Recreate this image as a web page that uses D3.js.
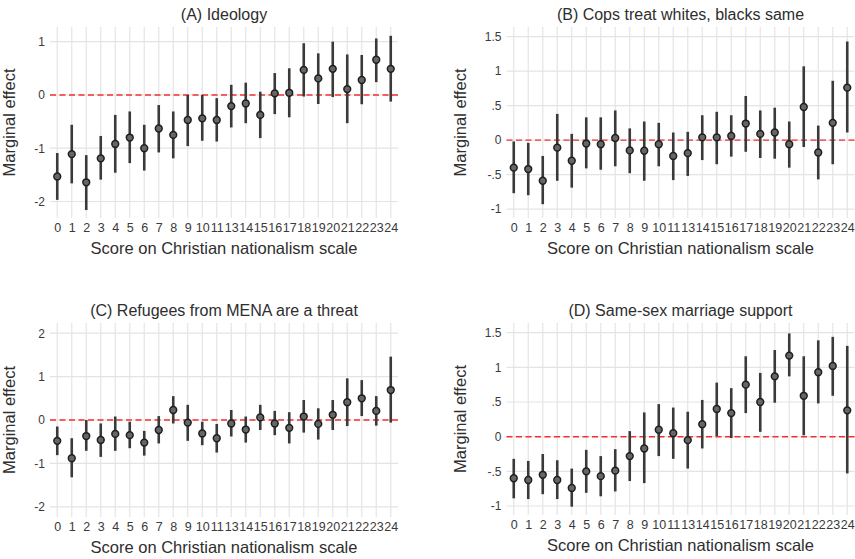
<!DOCTYPE html>
<html>
<head>
<meta charset="utf-8">
<script src="https://cdn.jsdelivr.net/npm/d3@7"></script>
<style>
  body { margin: 0; background: #fff; }
  text { font-family: "Liberation Sans", Arial, sans-serif; }
</style>
</head>
<body>
<div class="chart"></div>
<script>
// Marginal effects by Christian nationalism score, four panels

var scores = [0,1,2,3,4,5,6,7,8,9,10,11,13,14,15,16,17,18,19,20,21,22,23,24];

// (A) Ideology
var ideoEst = [-1.53,-1.11,-1.64,-1.19,-0.92,-0.80,-1.00,-0.63,-0.75,-0.47,-0.44,-0.47,-0.21,-0.16,-0.375,0.03,0.04,0.47,0.31,0.49,0.11,0.28,0.66,0.49];
var ideoLo  = [-1.97,-1.66,-2.16,-1.59,-1.46,-1.28,-1.42,-1.08,-1.19,-0.96,-0.86,-0.875,-0.61,-0.53,-0.81,-0.36,-0.42,-0.03,-0.17,-0.04,-0.53,-0.175,0.24,-0.125];
var ideoHi  = [-1.09,-0.56,-1.13,-0.77,-0.375,-0.31,-0.56,-0.19,-0.31,0.0,0.0,-0.06,0.19,0.23,0.06,0.41,0.50,0.97,0.78,1.00,0.76,0.75,1.06,1.11];

// (B) Cops treat whites, blacks same
var copsEst = [-0.40,-0.42,-0.59,-0.11,-0.30,-0.05,-0.06,0.03,-0.15,-0.155,-0.06,-0.23,-0.19,0.04,0.04,0.06,0.24,0.09,0.11,-0.06,0.48,-0.18,0.25,0.76];
var copsLo  = [-0.77,-0.80,-0.93,-0.59,-0.69,-0.41,-0.43,-0.38,-0.48,-0.59,-0.38,-0.58,-0.52,-0.29,-0.35,-0.24,-0.17,-0.26,-0.27,-0.40,-0.10,-0.57,-0.35,0.11];
var copsHi  = [-0.02,-0.04,-0.23,0.38,0.09,0.33,0.33,0.43,0.17,0.27,0.25,0.11,0.12,0.36,0.41,0.36,0.64,0.43,0.47,0.27,1.07,0.21,0.86,1.43];

// (C) Refugees from MENA are a threat
var refEst = [-0.48,-0.88,-0.37,-0.46,-0.32,-0.35,-0.52,-0.23,0.23,-0.06,-0.31,-0.42,-0.08,-0.22,0.06,-0.08,-0.18,0.08,-0.09,0.12,0.41,0.50,0.21,0.69];
var refLo  = [-0.81,-1.32,-0.71,-0.85,-0.71,-0.65,-0.82,-0.54,-0.08,-0.48,-0.58,-0.75,-0.38,-0.52,-0.23,-0.35,-0.54,-0.29,-0.45,-0.23,-0.14,0.09,-0.13,-0.06];
var refHi  = [-0.15,-0.42,0.0,-0.08,0.08,-0.04,-0.25,0.09,0.55,0.35,-0.04,-0.09,0.23,0.08,0.35,0.21,0.18,0.46,0.27,0.46,0.96,0.92,0.55,1.46];

// (D) Same-sex marriage support
var ssmEst = [-0.60,-0.625,-0.55,-0.625,-0.74,-0.50,-0.57,-0.49,-0.28,-0.17,0.10,0.05,-0.05,0.18,0.40,0.34,0.75,0.50,0.87,1.17,0.59,0.93,1.02,0.38];
var ssmLo  = [-0.89,-0.90,-0.83,-0.90,-1.01,-0.81,-0.86,-0.79,-0.64,-0.67,-0.28,-0.32,-0.46,-0.17,0.01,-0.02,0.34,0.07,0.49,0.87,0.02,0.48,0.59,-0.53];
var ssmHi  = [-0.32,-0.35,-0.25,-0.34,-0.46,-0.19,-0.28,-0.18,0.08,0.35,0.47,0.42,0.36,0.53,0.78,0.70,1.16,0.92,1.25,1.49,1.16,1.39,1.44,1.31];

var titles = ["(A) Ideology", "(B) Cops treat whites, blacks same",
              "(C) Refugees from MENA are a threat", "(D) Same-sex marriage support"];
var ticksAC = [[-2,-1,0,1], [-2,-1,0,1,2]];
var ticksBD = [-1,-0.5,0,0.5,1,1.5];

var svg = d3.select(".chart").append("svg")
    .attr("width", 855)
    .attr("height", 559);

var panels = [
    {title: titles[0], est: ideoEst, lo: ideoLo, hi: ideoHi, x0: 50, x1: 398, top: 27, bottom: 218, dom: [-2.31, 1.275], ticks: ticksAC[0], ylab: 35},
    {title: titles[1], est: copsEst, lo: copsLo, hi: copsHi, x0: 506.5, x1: 854.5, top: 27, bottom: 218, dom: [-1.13, 1.64], ticks: ticksBD, ylab: 41},
    {title: titles[2], est: refEst, lo: refLo, hi: refHi, x0: 50, x1: 398, top: 323, bottom: 517, dom: [-2.235, 2.235], ticks: ticksAC[1], ylab: 35},
    {title: titles[3], est: ssmEst, lo: ssmLo, hi: ssmHi, x0: 506.5, x1: 854.5, top: 323, bottom: 515, dom: [-1.13, 1.64], ticks: ticksBD, ylab: 41}
];

panels.forEach(drawPanel);

function fmt(v) {
    // stata style: .5, -.5
    var s = String(v);
    return s.replace(/^0\./, ".").replace(/^-0\./, "-.");
}

function drawPanel(p) {
    var x = d3.scalePoint()
        .domain(scores)
        .range([p.x0, p.x1])
        .padding(0.5);

    var y = d3.scaleLinear()
        .domain(p.dom)
        .range([p.bottom, p.top]);

    var g = svg.append("g");

    // grid
    g.selectAll(".hgrid")
        .data(p.ticks)
        .enter().append("line")
        .attr("x1", p.x0).attr("x2", p.x1)
        .attr("y1", d => y(d)).attr("y2", d => y(d))
        .attr("stroke", "#e4e4e4")
        .attr("stroke-width", 1.2);

    g.selectAll(".vgrid")
        .data(scores)
        .enter().append("line")
        .attr("x1", d => x(d)).attr("x2", d => x(d))
        .attr("y1", p.top).attr("y2", p.bottom)
        .attr("stroke", "#e4e4e4")
        .attr("stroke-width", 1.2);

    // y axis labels
    var yAxis = d3.axisLeft(y).tickValues(p.ticks).tickSize(0).tickPadding(5).tickFormat(fmt);
    g.append("g")
        .attr("transform", "translate(" + p.x0 + ",0)")
        .call(yAxis)
        .call(a => a.select(".domain").remove())
        .selectAll("text")
        .attr("font-size", 12)
        .attr("font-family", "Liberation Sans, Arial, sans-serif")
        .attr("fill", "#3a3a3a");

    // x axis labels
    var xAxis = d3.axisBottom(x).tickSize(0).tickPadding(0);
    g.append("g")
        .attr("transform", "translate(0," + (p.bottom + 5) + ")")
        .call(xAxis)
        .call(a => a.select(".domain").remove())
        .selectAll("text")
        .attr("font-size", 12.5)
        .attr("font-family", "Liberation Sans, Arial, sans-serif")
        .attr("fill", "#3a3a3a");

    // zero line
    g.append("line")
        .attr("x1", p.x0).attr("x2", p.x1)
        .attr("y1", y(0)).attr("y2", y(0))
        .attr("stroke", "#f52f2f")
        .attr("stroke-width", 1.4)
        .attr("stroke-dasharray", "6,3.5");

    // confidence intervals
    g.selectAll(".ci")
        .data(scores)
        .enter().append("line")
        .attr("x1", d => x(d)).attr("x2", d => x(d))
        .attr("y1", (d, i) => y(p.lo[i]))
        .attr("y2", (d, i) => y(p.hi[i]))
        .attr("stroke", "#3a3a3a")
        .attr("stroke-width", 2.6);

    g.selectAll(".pt")
        .data(scores)
        .enter().append("circle")
        .attr("cx", d => x(d))
        .attr("cy", (d, i) => y(p.est[i]))
        .attr("r", 3.4)
        .attr("fill", "#666")
        .attr("stroke", "#1e1e1e")
        .attr("stroke-width", 1.5);

    var cx = (p.x0 + p.x1) / 2;

    g.append("text")
        .attr("x", cx)
        .attr("y", p.top - 7)
        .attr("text-anchor", "middle")
        .attr("font-size", 16)
        .attr("fill", "#2e2e2e")
        .text(p.title);

    g.append("text")
        .attr("x", cx)
        .attr("y", p.bottom + 36)
        .attr("text-anchor", "middle")
        .attr("font-size", 16.5)
        .attr("fill", "#2e2e2e")
        .text("Score on Christian nationalism scale");

    g.append("text")
        .attr("transform", "translate(" + (p.x0 - p.ylab) + "," + ((p.top + p.bottom) / 2) + ") rotate(-90)")
        .attr("text-anchor", "middle")
        .attr("font-size", 16.5)
        .attr("fill", "#2e2e2e")
        .text("Marginal effect");
}
</script>
</body>
</html>
